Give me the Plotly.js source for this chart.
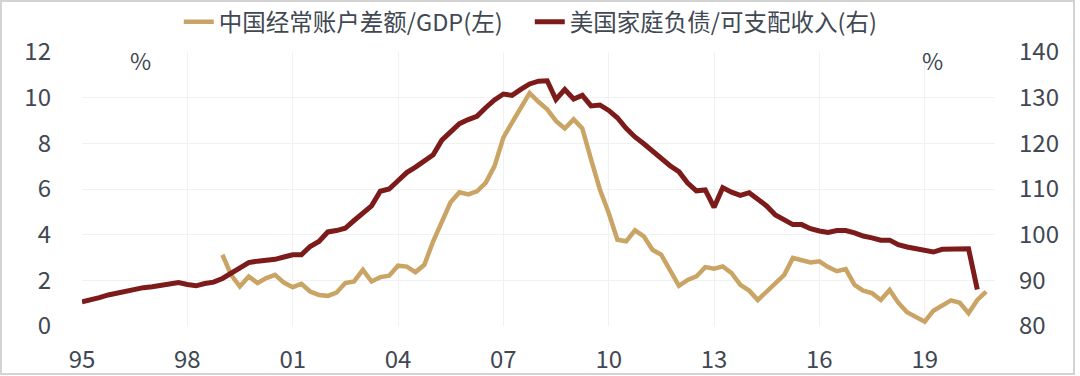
<!DOCTYPE html>
<html>
<head>
<meta charset="utf-8">
<script src="https://cdn.plot.ly/plotly-3.0.1.min.js"></script>
<style>
  html, body { margin: 0; padding: 0; background: #fff; }
  #wrap { position: relative; width: 1080px; height: 376px; }
  #chart { width: 1080px; height: 376px; }
  #frame { position: absolute; left: 0; top: 0; width: 1075px; height: 375px; box-sizing: border-box;
           border: 2px solid #d3d3d3; pointer-events: none; }
</style>
</head>
<body>
<div id="wrap"><div id="chart"></div><div id="frame"></div></div>
<script>
// Series names
const nameCN = '中国经常账户差额/GDP(左)';
const nameUS = '美国家庭负债/可支配收入(右)';

// China current account balance / GDP (%), quarterly from 1999Q1
const cnStart = { year: 1999, quarter: 1 };
const cnValues = [
  3.12, 2.24, 1.73, 2.17, 1.88, 2.10, 2.24, 1.90,
  1.70, 1.85, 1.51, 1.36, 1.32, 1.46, 1.88, 1.95,
  2.46, 1.95, 2.14, 2.20, 2.64, 2.60, 2.36, 2.68,
  3.71, 4.58, 5.42, 5.86, 5.76, 5.90, 6.27, 7.00,
  8.25, 8.91, 9.57, 10.20, 9.82, 9.49, 8.98, 8.65,
  9.05, 8.65, 7.30, 5.98, 4.95, 3.78, 3.71, 4.19,
  3.93, 3.34, 3.12, 2.46, 1.76, 2.02, 2.17, 2.58,
  2.51, 2.61, 2.32, 1.80, 1.55, 1.14, 1.51, 1.88,
  2.24, 2.98, 2.90, 2.78, 2.83, 2.58, 2.40, 2.49,
  1.80, 1.55, 1.44, 1.14, 1.58, 1.02, 0.60, 0.40,
  0.19, 0.67, 0.88, 1.12, 1.02, 0.56, 1.14, 1.51
];

// US household debt / disposable income (%), quarterly from 1995Q1
const usStart = { year: 1995, quarter: 1 };
const usValues = [
  85.3, 85.7, 86.2, 86.8, 87.2, 87.8, 88.2, 88.4,
  88.6, 88.9, 89.2, 89.5, 89.1, 88.8, 89.3, 89.6,
  90.4, 91.5, 92.8, 93.9, 94.2, 94.4, 94.6, 95.1,
  95.6, 95.6, 97.4, 98.5, 100.6, 100.9, 101.4, 103.1,
  104.8, 106.3, 109.5, 110.0, 111.8, 113.6, 114.8, 116.2,
  117.5, 120.7, 122.6, 124.3, 125.2, 125.9, 127.8, 129.5,
  130.8, 130.5, 131.8, 133.0, 133.6, 133.7, 129.6, 131.8,
  129.7, 130.5, 128.2, 128.4, 127.2, 125.6, 123.3, 121.4,
  119.9, 118.3, 116.8, 115.1, 113.8, 111.3, 109.6, 109.8,
  106.0, 110.3, 109.3, 108.6, 109.2, 107.7, 106.3, 104.3,
  103.2, 102.2, 102.2, 101.3, 100.8, 100.5, 100.9, 100.9,
  100.4, 99.7, 99.3, 98.8, 98.8, 97.8, 97.3, 96.9,
  96.6, 96.2, 96.8, 96.9, 96.9, 96.9, 88.0
];

// X tick labels
const tickYears = [1995, 1998, 2001, 2004, 2007, 2010, 2013, 2016, 2019];
const tickLabels = ['95', '98', '01', '04', '07', '10', '13', '16', '19'];

// Y tick labels
const leftTicks = [0, 2, 4, 6, 8, 10, 12];
const rightTicks = [80, 90, 100, 110, 120, 130, 140];

function quarterDates(start, n) {
  const out = [];
  for (let i = 0; i < n; i++) {
    const q = (start.quarter - 1) + i;
    const y = start.year + Math.floor(q / 4);
    const m = (q % 4) * 3 + 1;
    out.push(y + '-' + String(m).padStart(2, '0') + '-01');
  }
  return out;
}

const textColor = '#3f4853';
const gridColor = '#f1f1f1';
const font = 'Noto Sans CJK SC, Noto Sans, sans-serif';

const traces = [
  {
    x: quarterDates(cnStart, cnValues.length), y: cnValues,
    name: nameCN, type: 'scatter', mode: 'lines', yaxis: 'y',
    line: { color: '#C9A464', width: 4.5 }
  },
  {
    x: quarterDates(usStart, usValues.length), y: usValues,
    name: nameUS, type: 'scatter', mode: 'lines', yaxis: 'y2',
    line: { color: '#7D1B1B', width: 5 }
  }
];

const layout = {
  width: 1080, height: 376,
  margin: { l: 82, r: 85, t: 52, b: 50, autoexpand: false },
  paper_bgcolor: '#ffffff', plot_bgcolor: '#ffffff',
  font: { family: font, size: 24, color: textColor },
  showlegend: true,
  legend: {
    orientation: 'h', x: 0.106, xanchor: 'left', y: 1.11, yanchor: 'middle',
    entrywidth: 306, entrywidthmode: 'pixels',
    font: { family: font, size: 23.5, color: textColor },
    bgcolor: 'rgba(0,0,0,0)', itemclick: false
  },
  xaxis: {
    type: 'date',
    range: ['1995-01-01', '2021-01-01'],
    tickvals: tickYears.map(y => y + '-01-01'),
    ticktext: tickLabels,
    showgrid: true, gridcolor: gridColor, gridwidth: 1,
    zeroline: false, showline: false, ticks: '',
    ticklabelstandoff: 17,
    tickfont: { family: font, size: 24, color: textColor }
  },
  yaxis: {
    range: [0, 12], tickvals: leftTicks,
    showgrid: true, gridcolor: gridColor, gridwidth: 1,
    zeroline: false, showline: false, ticks: '',
    ticklabelstandoff: 30,
    tickfont: { family: font, size: 24, color: textColor }
  },
  yaxis2: {
    range: [80, 140], tickvals: rightTicks, overlaying: 'y', side: 'right',
    showgrid: false, zeroline: false, showline: false, ticks: '',
    ticklabelstandoff: 23,
    tickfont: { family: font, size: 24, color: textColor }
  },
  annotations: [
    { text: '%', xref: 'paper', yref: 'paper', x: (140 - 82) / 913, y: 1 - (60 - 52) / 274,
      xanchor: 'center', yanchor: 'middle', showarrow: false,
      font: { family: font, size: 23, color: textColor } },
    { text: '%', xref: 'paper', yref: 'paper', x: (932 - 82) / 913, y: 1 - (60 - 52) / 274,
      xanchor: 'center', yanchor: 'middle', showarrow: false,
      font: { family: font, size: 23, color: textColor } }
  ]
};

Plotly.newPlot('chart', traces, layout, { staticPlot: true, displayModeBar: false });
</script>
</body>
</html>
